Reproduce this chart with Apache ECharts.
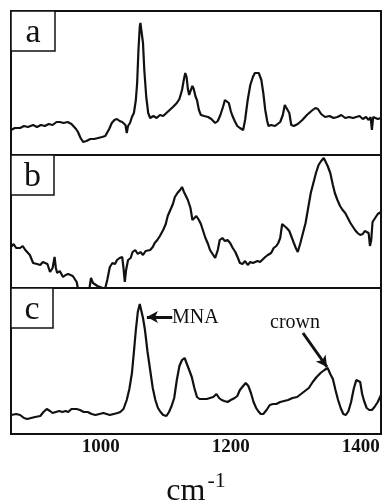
<!DOCTYPE html>
<html>
<head>
<meta charset="utf-8">
<script src="https://cdn.jsdelivr.net/npm/echarts@6/dist/echarts.min.js"></script>
<style>
  html, body { margin: 0; padding: 0; background: #fff; }
  #chart { width: 383px; height: 500px; }
</style>
</head>
<body>
<div id="chart"></div>
<script>
// Raman-type spectra, wavenumber (cm-1) vs relative intensity (arb. units)
const panelLabels = ['a', 'b', 'c'];
const tickValues = [1000, 1200, 1400];

const spectrumA = [
  [862,25],[868,27],[876,27],[882,29],[888,28],[896,30],[902,28],[908,30],[914,29],[920,31],
  [926,30],[932,33],[937,33],[943,32],[949,33],[955,31],[958,30],[962,26],[965,23],[969,17],
  [973,13],[978,14],[984,16],[990,16],[996,17],[1002,18],[1007,19],[1010,21],[1013,26],[1017,32],
  [1021,35],[1025,36],[1029,34],[1033,33],[1036,31],[1038,30],[1040,22],[1042,29],[1045,32],[1048,38],
  [1051,42],[1054,55],[1056,72],[1058,105],[1060,128],[1061,132],[1063,122],[1065,112],[1067,85],[1070,58],
  [1073,42],[1076,37],[1081,39],[1086,37],[1091,40],[1096,39],[1101,42],[1106,45],[1111,48],[1117,52],
  [1121,56],[1125,65],[1128,76],[1130,82],[1132,78],[1134,66],[1136,60],[1138,64],[1141,69],[1143,66],
  [1146,58],[1148,55],[1151,45],[1154,40],[1159,39],[1165,38],[1170,36],[1176,32],[1180,34],[1184,40],
  [1188,48],[1191,55],[1194,57],[1197,52],[1200,44],[1202,40],[1206,34],[1210,29],[1214,27],[1219,25],
  [1222,35],[1226,55],[1230,70],[1234,78],[1237,82],[1240,84],[1243,82],[1247,75],[1250,62],[1253,45],
  [1256,34],[1258,29],[1262,30],[1268,29],[1272,31],[1276,33],[1280,40],[1283,50],[1286,49],[1290,42],
  [1293,30],[1297,29],[1303,31],[1310,35],[1317,40],[1324,44],[1330,47],[1334,46],[1339,41],[1345,38],
  [1352,39],[1358,37],[1364,38],[1370,40],[1376,37],[1382,38],[1388,37],[1393,38],[1398,39],[1403,36],
  [1408,38],[1412,35],[1415,38],[1417,25],[1419,38],[1422,40],[1426,36],[1431,37]
];

const spectrumB = [
  [862,41],[866,44],[870,40],[876,40],[880,42],[884,38],[887,36],[891,33],[896,25],[902,24],
  [907,23],[911,26],[914,28],[918,24],[922,16],[926,20],[929,31],[931,20],[933,15],[937,17],
  [942,11],[946,13],[950,14],[953,15],[957,12],[960,11],[963,6],[966,-4],[975,-10],[982,-3],
  [985,10],[988,5],[991,3],[995,2],[999,1],[1003,0],[1007,0],[1010,8],[1014,21],[1018,25],
  [1022,24],[1025,28],[1029,30],[1033,31],[1035,20],[1037,6],[1039,18],[1042,28],[1046,30],[1049,36],
  [1053,38],[1057,34],[1061,36],[1065,33],[1069,37],[1072,36],[1076,38],[1080,41],[1083,45],[1087,48],
  [1091,52],[1096,58],[1100,64],[1103,72],[1107,78],[1111,84],[1114,91],[1118,95],[1122,98],[1125,101],
  [1128,96],[1131,97],[1134,88],[1138,80],[1141,68],[1144,66],[1147,72],[1151,68],[1154,64],[1157,58],
  [1161,50],[1165,44],[1168,38],[1172,34],[1176,30],[1180,38],[1183,48],[1187,50],[1191,47],[1195,48],
  [1199,45],[1203,40],[1207,36],[1211,30],[1214,25],[1218,24],[1222,27],[1226,23],[1230,26],[1234,25],
  [1237,23],[1241,27],[1245,26],[1248,28],[1253,31],[1257,33],[1262,35],[1266,40],[1270,42],[1273,45],
  [1276,50],[1279,64],[1282,62],[1286,60],[1290,57],[1293,55],[1297,45],[1300,40],[1303,36],[1307,45],
  [1311,55],[1315,65],[1319,80],[1323,95],[1327,105],[1331,115],[1335,123],[1339,127],[1343,130],[1346,128],
  [1349,122],[1353,115],[1357,103],[1360,95],[1364,88],[1368,82],[1372,78],[1376,75],[1380,70],[1384,65],
  [1388,61],[1391,58],[1395,55],[1399,53],[1403,54],[1406,57],[1409,58],[1412,55],[1414,42],[1416,48],
  [1418,66],[1422,70],[1426,74],[1431,76]
];

const spectrumC = [
  [862,19],[870,20],[876,19],[882,16],[887,15],[893,16],[899,17],[907,18],[912,22],[917,25],
  [922,23],[926,21],[931,22],[936,23],[941,22],[946,23],[950,22],[955,25],[958,27],[963,25],
  [968,24],[974,22],[980,22],[986,20],[992,19],[998,20],[1004,21],[1009,20],[1014,19],[1020,20],
  [1026,21],[1030,22],[1035,25],[1040,34],[1044,45],[1048,61],[1051,82],[1054,104],[1057,122],[1060,130],
  [1062,128],[1065,116],[1068,104],[1072,82],[1076,64],[1080,46],[1084,34],[1088,26],[1092,22],[1096,19],
  [1101,18],[1105,22],[1109,28],[1113,36],[1117,54],[1121,68],[1125,74],[1129,76],[1132,74],[1136,64],
  [1140,57],[1144,46],[1148,37],[1152,35],[1157,35],[1163,35],[1168,36],[1173,37],[1178,40],[1182,36],
  [1186,34],[1190,33],[1195,32],[1200,34],[1206,36],[1210,38],[1214,44],[1219,48],[1223,51],[1227,48],
  [1231,41],[1235,32],[1239,26],[1242,23],[1246,20],[1250,20],[1255,24],[1260,29],[1265,30],[1270,30],
  [1276,32],[1282,33],[1288,34],[1295,36],[1302,37],[1308,40],[1314,43],[1320,46],[1326,52],[1332,57],
  [1338,61],[1344,64],[1349,66],[1353,60],[1357,55],[1361,44],[1365,34],[1369,26],[1373,20],[1377,19],
  [1381,23],[1385,32],[1389,45],[1393,54],[1396,56],[1399,52],[1402,40],[1405,33],[1409,26],[1413,24],
  [1417,24],[1421,27],[1426,32],[1431,39]
];

const spectra = [spectrumA, spectrumB, spectrumC];
const xMin = 862, xMax = 1431;
const yMax = [144, 133, 146];

const serif = "'Liberation Serif', 'DejaVu Serif', serif";
const ink = '#111';

const grids = [
  { left: 11, top: 11, width: 370, height: 144 },
  { left: 11, top: 155, width: 370, height: 133 },
  { left: 11, top: 288, width: 370, height: 146 }
].map(g => Object.assign(g, {
  show: true, borderColor: ink, borderWidth: 2, backgroundColor: 'transparent',
  outerBoundsMode: 'none', containLabel: false
}));

const xAxes = spectra.map((s, i) => ({
  type: 'value', gridIndex: i, min: xMin, max: xMax,
  axisLine: { show: false }, axisTick: { show: false }, splitLine: { show: false },
  axisLabel: i < 2 ? { show: false } : {
    customValues: tickValues, margin: 4, formatter: v => String(v),
    color: ink, fontFamily: serif, fontSize: 19, fontWeight: 'bold'
  },
  name: i < 2 ? '' : '{u|cm}{e|-1}',
  nameLocation: 'middle', nameGap: 36,
  nameTextStyle: {
    rich: {
      u: { fontFamily: serif, fontSize: 32, color: ink, lineHeight: 38, verticalAlign: 'bottom', padding: [0, 2, 0, 0] },
      e: { fontFamily: serif, fontSize: 22, color: ink, lineHeight: 38, verticalAlign: 'top' }
    }
  }
}));

const yAxes = spectra.map((s, i) => ({
  type: 'value', gridIndex: i, min: 0, max: yMax[i], show: false
}));

const series = spectra.map((s, i) => ({
  type: 'line', xAxisIndex: i, yAxisIndex: i, data: s,
  showSymbol: false, symbol: 'none', clip: true,
  lineStyle: { color: ink, width: 2.2 }
}));

// arrows pointing at the MNA peak and the crown band
series[2].markLine = {
  silent: true, symbol: ['none', 'arrow'], symbolSize: [9, 11],
  label: { show: false },
  lineStyle: { color: ink, width: 3, type: 'solid' },
  data: [
    [{ coord: [1110, 117] }, { coord: [1071, 117] }],
    [{ coord: [1311, 101] }, { coord: [1348, 67] }]
  ]
};

const graphic = [];
const boxes = [[11, 11, 44, 40], [11, 155, 43, 40], [11, 288, 42, 40]];
boxes.forEach((b, i) => {
  graphic.push({
    type: 'rect', shape: { x: b[0], y: b[1], width: b[2], height: b[3] },
    style: { fill: '#fff', stroke: ink, lineWidth: 1.5 }, z: 10
  });
  graphic.push({
    type: 'text', x: b[0] + b[2] / 2, y: b[1] + b[3] / 2 + 2, z: 11,
    style: { text: panelLabels[i], font: '34px ' + serif, fill: ink, align: 'center', verticalAlign: 'middle' }
  });
});
graphic.push({
  type: 'text', x: 172, y: 318, z: 11,
  style: { text: 'MNA', font: '20px ' + serif, fill: ink, align: 'left', verticalAlign: 'middle' }
});
graphic.push({
  type: 'text', x: 295, y: 323, z: 11,
  style: { text: 'crown', font: '20px ' + serif, fill: ink, align: 'center', verticalAlign: 'middle' }
});

const chart = echarts.init(document.getElementById('chart'));
chart.setOption({
  animation: false,
  backgroundColor: '#fff',
  grid: grids,
  xAxis: xAxes,
  yAxis: yAxes,
  series: series,
  graphic: graphic
});
</script>
</body>
</html>
